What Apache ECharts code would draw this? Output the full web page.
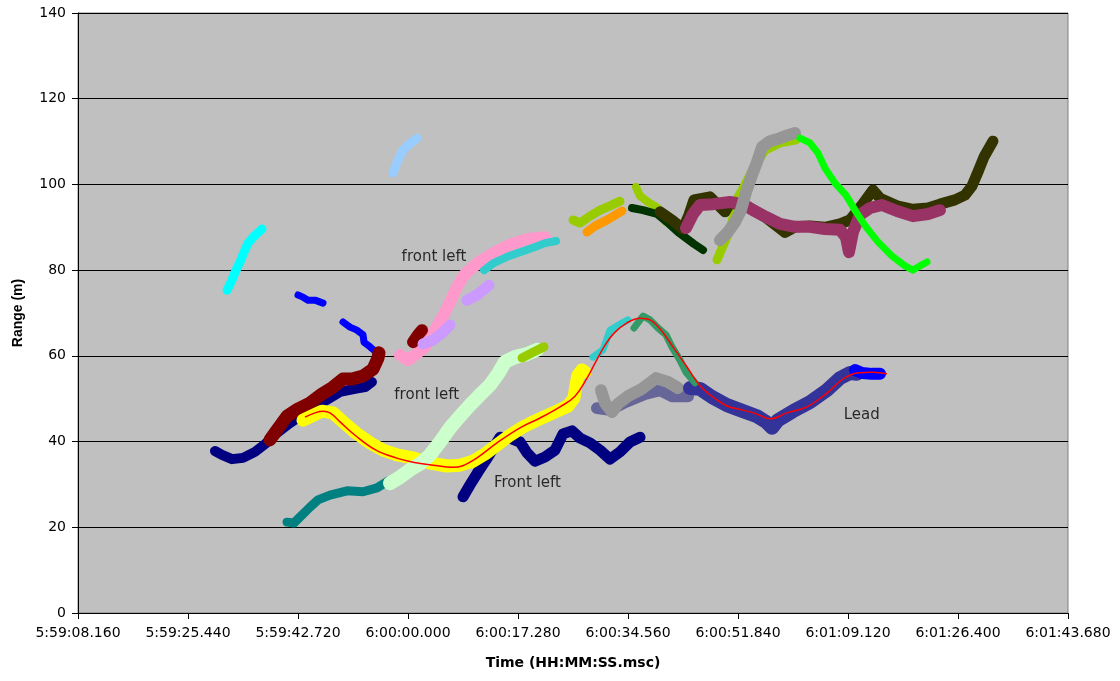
<!DOCTYPE html>
<html>
<head>
<meta charset="utf-8">
<script src="https://cdn.jsdelivr.net/npm/echarts@6/dist/echarts.min.js"></script>
<style>
  html, body { margin: 0; padding: 0; background: #ffffff; }
  #chart { width: 1120px; height: 681px; }
</style>
</head>
<body>
<div id="chart"></div>
<script>
// Times are seconds relative to 06:00:00.000, ranges are metres.
const TIME_ORIGIN = 6 * 3600;
const timeAxis = { min: -51.84, max: 103.68, step: 17.28 };
const rangeAxis = { min: 0, max: 140, step: 20 };

// Individual radar tracks: [time offset (s), range (m)]
const cyanTrack = [[-28.43,75.3],[-27.65,77.7],[-27.02,80.0],[-26.39,81.9],[-25.76,84.2],[-25.13,86.3],[-24.19,87.9],[-22.93,89.6]];
const skyTrack = [[-2.36,102.7],[-1.57,105.7],[-0.79,108.0],[0.31,109.6],[1.41,110.8]];
const blueTrackA = [[-17.28,74.2],[-16.49,73.7],[-15.71,73.0],[-14.61,73.0],[-13.35,72.3]];
const blueTrackB = [[-10.21,67.9],[-9.11,66.7],[-8.01,66.0],[-7.07,64.9],[-6.91,63.2],[-5.97,62.1],[-4.87,60.7]];
const blueTrackC = [[70.22,56.7],[71.32,56.0],[72.89,55.8],[74.15,55.8]];
const navyTrackA = [[-30.32,37.8],[-29.22,36.9],[-27.65,35.9],[-25.92,36.2],[-24.04,37.6],[-22.46,39.4],[-20.74,41.8],[-18.54,44.3],[-16.49,46.4],[-13.82,48.8],[-10.68,51.6],[-8.33,52.3],[-6.75,52.7],[-5.66,53.9]];
const maroonTrackA = [[-21.68,40.4],[-20.58,42.7],[-19.01,45.9],[-17.28,47.6],[-15.39,49.0],[-13.51,51.1],[-11.78,52.7],[-10.21,54.6],[-8.80,54.6],[-7.07,55.3],[-5.50,56.9],[-4.71,59.5],[-4.56,60.7]];
const maroonTrackB = [[0.79,63.2],[1.57,64.9],[2.20,66.0]];
const tealTrack = [[-19.01,21.2],[-17.91,21.0],[-16.97,22.4],[-15.39,24.7],[-14.14,26.4],[-12.25,27.5],[-9.58,28.5],[-7.07,28.3],[-4.87,29.2],[-3.14,30.8]];
const navyTrackB = [[8.64,27.1],[9.74,29.9],[11.00,32.9],[12.25,35.7],[13.51,38.7],[14.45,41.0],[16.02,40.8],[17.59,39.9],[18.69,37.4],[19.95,35.4],[21.52,36.4],[23.09,38.0],[24.35,41.8],[25.76,42.5],[27.02,40.8],[28.59,39.7],[30.16,38.0],[31.73,35.9],[33.30,37.6],[34.87,39.9],[36.45,41.0]];
const yellowTrack = [[-16.49,45.0],[-15.08,46.0],[-13.51,47.1],[-11.78,46.7],[-10.21,44.6],[-8.17,42.0],[-5.97,39.7],[-3.93,38.0],[-1.73,36.9],[0.79,36.2],[3.46,35.0],[6.13,34.3],[8.17,34.5],[10.21,35.4],[12.10,37.1],[13.98,39.2],[16.02,41.5],[18.06,43.4],[20.26,45.0],[22.78,46.7],[25.13,48.3],[26.08,50.2],[26.39,53.2],[26.70,55.5],[27.33,56.7],[27.80,56.2]];
const mintTrack = [[-2.83,30.3],[-1.26,31.7],[0.31,33.4],[1.89,34.8],[3.46,36.9],[5.03,39.9],[6.60,43.2],[8.17,45.9],[9.74,48.5],[11.31,50.9],[12.88,53.2],[14.14,55.8],[15.24,58.6],[16.81,59.7],[18.69,60.4],[20.26,61.4]];
const limeTrackA = [[17.91,59.5],[19.48,60.7],[21.36,62.1]];
const limeTrackB = [[25.92,91.7],[27.02,91.0],[28.59,92.6],[30.16,94.0],[31.73,95.0],[33.30,96.1]];
const limeTrackC = [[35.82,99.4],[36.45,97.3],[37.70,95.9],[39.27,94.5],[40.53,91.2]];
const limeTrackD = [[48.54,82.4],[49.33,85.1],[50.58,89.4],[51.84,97.0],[52.94,99.9],[54.51,104.5],[56.08,108.0],[58.44,109.7],[60.95,110.4]];
const orangeTrack = [[28.12,88.9],[29.38,90.3],[31.26,91.7],[33.62,93.8]];
const pinkTrack = [[-1.26,60.2],[0.00,59.0],[1.26,60.4],[2.67,62.1],[3.93,65.3],[5.34,68.8],[6.60,72.5],[7.70,76.1],[8.95,79.1],[11.00,81.7],[13.67,84.2],[16.34,86.1],[18.85,87.3],[21.52,87.7]];
const lilacTrackA = [[2.36,62.8],[3.93,63.7],[5.34,65.3],[6.60,67.2]];
const lilacTrackB = [[9.27,73.0],[10.84,74.2],[12.72,76.5]];
const aquaTrackA = [[11.94,80.0],[13.51,81.7],[15.55,83.1],[17.59,84.2],[19.95,85.4],[21.52,86.3],[23.25,86.8]];
const aquaTrackB = [[29.06,59.7],[30.63,61.4],[31.73,66.0],[33.30,67.4],[34.56,68.4]];
const oliveTrack = [[39.59,93.6],[41.47,91.7],[43.20,89.6],[44.14,92.9],[44.93,96.4],[47.44,97.1],[49.80,93.6],[50.58,95.6],[52.94,95.2],[56.08,92.4],[59.22,88.8],[60.79,90.1],[63.15,90.3],[65.50,90.0],[67.86,90.8],[69.43,91.7],[71.32,95.2],[73.04,98.7],[74.14,96.8],[76.81,95.0],[79.33,94.2],[81.68,94.5],[83.56,95.4],[85.92,96.4],[87.49,97.5],[88.59,99.6],[89.53,102.9],[90.48,106.4],[91.89,110.1]];
const forestTrack = [[35.19,94.5],[36.92,94.0],[39.12,93.1],[40.69,91.2],[42.41,88.9],[43.67,87.5],[44.93,86.1],[46.34,84.7]];
const plumTrack = [[43.67,89.8],[44.77,93.1],[45.87,95.2],[47.91,95.4],[50.58,95.9],[52.63,95.4],[54.20,94.0],[56.24,92.4],[58.44,90.8],[60.79,90.1],[63.15,90.1],[65.50,89.6],[67.86,89.4],[68.80,87.7],[69.27,84.2],[69.90,88.9],[71.00,92.9],[72.57,94.5],[74.46,95.2],[76.81,93.8],[79.33,92.6],[81.68,93.1],[83.56,94.0]];
const slateTrack = [[29.69,47.8],[31.73,47.4],[34.09,49.2],[37.23,51.1],[39.59,52.0],[41.47,50.6],[43.98,50.6]];
const greyTrackA = [[30.32,52.0],[30.95,49.0],[32.05,46.9],[32.99,48.8],[34.56,50.6],[36.76,52.3],[38.96,54.8],[40.84,53.9],[42.41,52.5]];
const greyTrackB = [[49.01,87.0],[50.27,88.9],[51.37,91.2],[52.31,94.0],[53.10,98.2],[54.04,102.2],[54.82,105.2],[55.61,108.7],[56.87,110.1],[58.44,110.8],[59.69,111.5],[60.79,112.0]];
const leadTrack = [[44.30,52.5],[45.87,52.3],[47.75,50.4],[50.11,48.5],[52.63,47.1],[54.82,45.9],[56.24,44.6],[57.18,43.2],[58.12,45.0],[60.48,47.1],[63.15,49.2],[65.81,52.0],[67.86,54.8],[69.43,56.0],[70.53,55.8]];
const seaTrack = [[35.50,66.5],[36.92,69.3],[38.02,68.4],[39.27,66.5],[40.53,64.9],[41.47,62.1],[42.73,59.0],[43.67,56.2],[45.08,53.7]];
const greenTrack = [[61.58,110.8],[63.15,109.7],[64.41,107.3],[65.50,103.8],[67.08,100.3],[68.80,97.5],[70.38,93.6],[71.95,90.1],[73.83,86.6],[76.03,83.3],[78.07,81.0],[79.33,80.0],[80.42,81.0],[81.53,81.9]];
// Smoothed fit through the lead vehicle's range
const leadFit = [[-16.18,45.7],[-14.61,46.7],[-13.35,47.1],[-12.25,46.7],[-10.68,44.6],[-8.17,41.3],[-5.03,38.0],[-1.89,36.2],[0.79,35.2],[3.93,34.5],[7.07,34.0],[8.48,34.3],[10.84,36.2],[13.98,39.7],[17.59,43.2],[20.74,45.5],[23.88,48.1],[26.23,50.6],[28.12,54.8],[29.38,58.3],[30.79,62.1],[32.36,65.3],[34.40,67.7],[36.45,68.8],[38.02,68.4],[39.59,66.3],[41.63,62.1],[43.83,57.4],[45.87,53.0],[47.91,50.4],[50.11,48.3],[52.47,47.4],[54.82,46.4],[56.87,45.3],[59.53,46.7],[62.67,48.1],[65.81,51.3],[68.33,54.6],[70.53,56.0],[73.04,56.2],[75.24,55.8]];

// Text notes placed in data coordinates
const noteText = ['front left', 'front left', 'Front left', 'Lead'];
const noteTime = [4.08, 2.94, 18.77, 71.27];
const noteRange = [83.1, 50.9, 30.4, 46.2];

function pad(n, w) { return String(n).padStart(w, '0'); }
function clockLabel(v) {
  const ms = Math.round((TIME_ORIGIN + v) * 1000);
  const h = Math.floor(ms / 3600000);
  const m = Math.floor((ms % 3600000) / 60000);
  const s = Math.floor((ms % 60000) / 1000);
  return h + ':' + pad(m, 2) + ':' + pad(s, 2) + '.' + pad(ms % 1000, 3);
}

function track(data, color, width, extra) {
  return Object.assign({
    type: 'line',
    data: data,
    showSymbol: false,
    symbol: 'none',
    silent: true,
    animation: false,
    lineStyle: { color: color, width: width, cap: 'round', join: 'round' },
    itemStyle: { color: color }
  }, extra || {});
}

const series = [
  track(skyTrack, '#99CCFF', 9),
  track(cyanTrack, '#00FFFF', 9),
  track(blueTrackA, '#0000FF', 7),
  track(blueTrackB, '#0000FF', 7),
  track(navyTrackA, '#000080', 10),
  track(maroonTrackA, '#800000', 13),
  track(tealTrack, '#008080', 9),
  track(navyTrackB, '#000080', 11),
  track(yellowTrack, '#FFFF00', 13),
  track(mintTrack, '#CCFFCC', 14),
  track(limeTrackA, '#99CC00', 9),
  track(limeTrackB, '#99CC00', 9),
  track(limeTrackC, '#99CC00', 8),
  track(limeTrackD, '#99CC00', 9),
  track(orangeTrack, '#FF9900', 9),
  track(pinkTrack, '#FF99CC', 12),
  track(maroonTrackB, '#800000', 12),
  track(lilacTrackA, '#CC99FF', 11),
  track(lilacTrackB, '#CC99FF', 11),
  track(aquaTrackA, '#33CCCC', 8),
  track(aquaTrackB, '#33CCCC', 7),
  track(forestTrack, '#003300', 8),
  track(oliveTrack, '#333300', 11),
  track(plumTrack, '#993366', 12),
  track(slateTrack, '#666699', 12),
  track(greyTrackA, '#969696', 12),
  track(greyTrackB, '#969696', 12),
  track(leadTrack, '#333399', 14),
  track(seaTrack, '#339966', 7),
  track(greenTrack, '#00FF00', 7),
  track(blueTrackC, '#0000FF', 12),
  track(leadFit, '#FF0000', 1.5, { smooth: 0.4, lineStyle: { color: '#FF0000', width: 1.5 } }),
  {
    type: 'scatter',
    silent: true,
    animation: false,
    symbolSize: 0,
    itemStyle: { color: 'transparent' },
    data: noteText.map((t, i) => [noteTime[i], noteRange[i], t]),
    label: {
      show: true,
      position: 'inside',
      formatter: p => p.value[2],
      color: '#000000',
      textBorderWidth: 0,
      textBorderColor: 'transparent',
      fontFamily: 'DejaVu Sans',
      fontSize: 15
    }
  }
];

const chart = echarts.init(document.getElementById('chart'), null, { renderer: 'canvas' });
chart.setOption({
  backgroundColor: '#ffffff',
  animation: false,
  grid: {
    left: 78, right: 52, top: 13, bottom: 68,
    show: true,
    backgroundColor: '#C0C0C0',
    borderColor: '#808080',
    borderWidth: 1
  },
  xAxis: {
    type: 'value',
    min: timeAxis.min,
    max: timeAxis.max,
    interval: timeAxis.step,
    name: 'Time (HH:MM:SS.msc)',
    nameLocation: 'middle',
    nameGap: 43,
    nameTextStyle: { fontFamily: 'DejaVu Sans', fontWeight: 'bold', fontSize: 14, color: '#000' },
    axisLine: { show: true, onZero: false, lineStyle: { color: '#000', width: 1 } },
    axisTick: { show: true, length: 6, lineStyle: { color: '#000' } },
    axisLabel: {
      formatter: clockLabel,
      fontFamily: 'DejaVu Sans', fontSize: 14, color: '#000', margin: 13
    },
    splitLine: { show: false }
  },
  yAxis: {
    type: 'value',
    min: rangeAxis.min,
    max: rangeAxis.max,
    interval: rangeAxis.step,
    name: 'Range (m)',
    nameLocation: 'middle',
    nameGap: 53,
    nameRotate: 90,
    nameTextStyle: { fontFamily: 'Liberation Sans', fontWeight: 'bold', fontSize: 14, color: '#000' },
    axisLine: { show: true, onZero: false, lineStyle: { color: '#000', width: 1 } },
    axisTick: { show: true, length: 6, lineStyle: { color: '#000' } },
    axisLabel: { fontFamily: 'DejaVu Sans', fontSize: 14, color: '#000', margin: 12 },
    splitLine: { show: true, lineStyle: { color: '#000', width: 1 } }
  },
  series: series
});
</script>
</body>
</html>
